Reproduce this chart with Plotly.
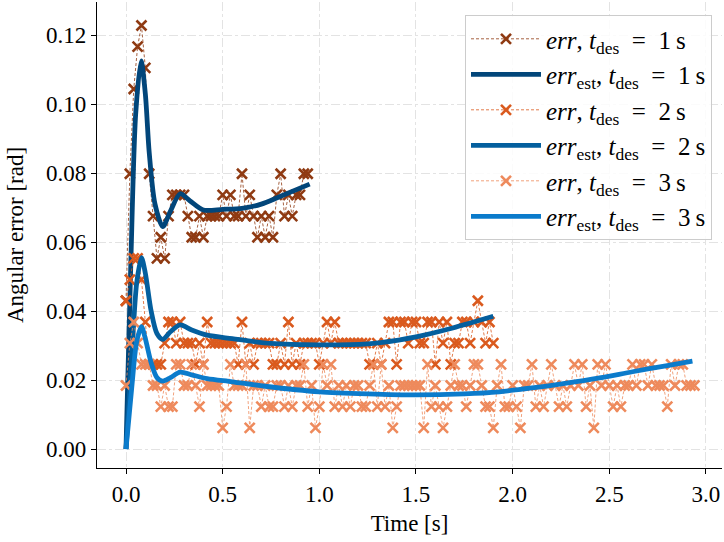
import numpy as np
import plotly.graph_objects as go

# ---- data ----
quant_rad = 0.00614          # quantisation step of the measured angular error [rad]
dt = 0.02                    # sample period [s]

# measured error, in quantisation steps
err1_steps = [7, 13, 17, 19, 20, 18, 13, 11, 9, 10, 9, 11, 12, 12, 12, 12, 11, 10, 10, 11,
              10, 11, 11, 11, 11, 12, 11, 12, 11, 11, 13, 11, 12, 11, 10, 11, 10, 11, 10, 12,
              13, 11, 12, 11, 12, 12, 13, 13]
err2_steps = [7, 8, 9, 9, 8, 6, 4, 4, 4, 4, 5, 6, 6, 5, 6, 5, 5, 5, 4, 5,
              4, 6, 5, 5, 5, 5, 5, 5, 5, 4, 6, 4, 5, 4, 5, 5, 5, 5, 4, 4,
              5, 4, 6, 4, 5, 4, 5, 5, 5, 5, 4, 5, 6, 5, 6, 5, 5, 5, 5, 5,
              5, 5, 5, 4, 4, 5, 4, 5, 6, 6, 4, 6, 6, 5, 6, 6, 5, 5, 6, 6,
              4, 6, 5, 6, 4, 5, 5, 6, 6, 5, 6, 7, 6, 5, 6, 5]
err3_steps = [3, 5, 6, 5, 4, 4, 4, 3, 3, 2, 3, 2, 2, 4, 4, 3, 3, 4, 3, 2,
              4, 3, 3, 3, 3, 1, 2, 4, 3, 3, 3, 4, 1, 3, 3, 2, 3, 2, 2, 3,
              3, 2, 3, 2, 3, 3, 4, 2, 3, 1, 2, 4, 3, 4, 2, 3, 2, 3, 2, 3,
              3, 2, 2, 3, 4, 2, 4, 2, 3, 1, 2, 3, 3, 3, 3, 3, 3, 1, 4, 2,
              3, 2, 1, 2, 3, 4, 3, 3, 2, 3, 4, 4, 3, 2, 2, 1, 3, 4, 2, 2,
              3, 2, 1, 3, 3, 4, 2, 3, 2, 3, 4, 3, 2, 3, 2, 3, 4, 3, 4, 2,
              3, 1, 4, 3, 4, 3, 2, 3, 2, 3, 3, 4, 3, 4, 4, 3, 4, 3, 3, 3,
              2, 4, 3, 4, 4, 3, 3, 3]

# estimated error curves (control points)
est1_t = [0, 0.025, 0.05, 0.078, 0.10, 0.12, 0.15, 0.19, 0.23, 0.28, 0.33, 0.40, 0.50, 0.60,
          0.70, 0.80, 0.95]
est1_v = [0, 0.054, 0.097, 0.1125, 0.103, 0.086, 0.071, 0.0645, 0.069, 0.074, 0.072, 0.0693,
          0.0695, 0.0698, 0.071, 0.0733, 0.0768]
est2_t = [0, 0.03, 0.055, 0.08, 0.10, 0.13, 0.16, 0.19, 0.23, 0.28, 0.34, 0.42, 0.55, 0.75,
          1.0, 1.25, 1.41, 1.5, 1.67, 1.9]
est2_v = [0, 0.027, 0.048, 0.0555, 0.051, 0.040, 0.0335, 0.0318, 0.034, 0.036, 0.0345, 0.033,
          0.032, 0.0306, 0.0302, 0.0305, 0.0316, 0.0325, 0.0348, 0.0385]
est3_t = [0, 0.03, 0.055, 0.08, 0.10, 0.13, 0.16, 0.19, 0.23, 0.28, 0.34, 0.42, 0.55, 0.72,
          1.0, 1.25, 1.5, 1.75, 1.93, 2.1, 2.27, 2.45, 2.62, 2.8, 2.93]
est3_v = [0, 0.018, 0.031, 0.0355, 0.032, 0.025, 0.0207, 0.0197, 0.0207, 0.0223, 0.0215,
          0.0204, 0.0195, 0.0182, 0.0166, 0.016, 0.0157, 0.016, 0.0166, 0.0177, 0.019,
          0.0206, 0.0224, 0.0242, 0.0255]

x_ticks = [0.0, 0.5, 1.0, 1.5, 2.0, 2.5, 3.0]
y_ticks = [0.00, 0.02, 0.04, 0.06, 0.08, 0.10, 0.12]

err_colors = ["#8f3a12", "#da5a1e", "#ee8a5c"]
est_colors = ["#02467a", "#045f9e", "#0b7bcb"]

FONT = "Liberation Serif, DejaVu Serif, serif"

fig = go.Figure()

def err_trace(steps, color, k):
    t = np.arange(len(steps)) * dt
    v = np.array(steps) * quant_rad
    return go.Scatter(
        x=t, y=v, mode="lines+markers",
        line=dict(color=color, width=0.8, dash="3px,2px"),
        marker=dict(symbol="x-thin", size=10, line=dict(color=color, width=2.6)),
        name=f"<i>err</i>,&nbsp;<i>t</i><sub>des</sub>&nbsp;&nbsp;=&nbsp;&nbsp;{k}&#8201;s",
    )

def est_trace(t, v, color, k):
    return go.Scatter(
        x=t, y=v, mode="lines",
        line=dict(color=color, width=4.8, shape="spline", smoothing=0.8),
        name=f"<i>err</i><sub>est</sub>,&nbsp;<i>t</i><sub>des</sub>&nbsp;&nbsp;=&nbsp;&nbsp;{k}&#8201;s",
    )

fig.add_trace(err_trace(err1_steps, err_colors[0], 1))
fig.add_trace(est_trace(est1_t, est1_v, est_colors[0], 1))
fig.add_trace(err_trace(err2_steps, err_colors[1], 2))
fig.add_trace(est_trace(est2_t, est2_v, est_colors[1], 2))
fig.add_trace(err_trace(err3_steps, err_colors[2], 3))
fig.add_trace(est_trace(est3_t, est3_v, est_colors[2], 3))

axis_common = dict(
    showline=True, linecolor="black", linewidth=1.2, mirror=False,
    ticks="outside", ticklen=5, tickwidth=1.2, tickcolor="black",
    showgrid=True, gridcolor="#e3e3e3", gridwidth=1.3, griddash="dashdot",
    zeroline=False, automargin=False,
    tickfont=dict(family=FONT, size=23, color="black"),
)

fig.update_layout(
    width=724, height=542,
    margin=dict(l=97, r=2, t=2, b=74),
    paper_bgcolor="white", plot_bgcolor="white",
    font=dict(family=FONT, size=23, color="black"),
    xaxis=dict(range=[-0.150, 3.083], tickvals=x_ticks,
               ticktext=[f"{v:.1f}" for v in x_ticks],
               title=dict(text="Time [s]", standoff=9, font=dict(family=FONT, size=23)),
               **axis_common),
    yaxis=dict(range=[-0.0055, 0.1296], tickvals=y_ticks,
               ticktext=[f"{v:.2f}" for v in y_ticks],
               title=dict(text="Angular error [rad]", standoff=15, font=dict(family=FONT, size=23)),
               **axis_common),
    legend=dict(x=0.984, y=0.972, xanchor="right", yanchor="top",
                bgcolor="rgba(255,255,255,0.85)", bordercolor="#cccccc", borderwidth=1,
                font=dict(family=FONT, size=25, color="black"), itemwidth=70,
                tracegroupgap=0),
    showlegend=True,
)

fig.write_html(
    "out.html",
    config={"displayModeBar": False},
    post_script="document.body.style.margin='0';document.body.style.padding='0';",
)
